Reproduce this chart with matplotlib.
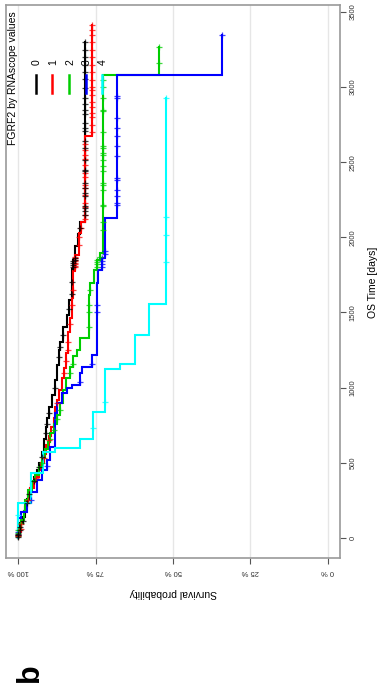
import numpy as np
import matplotlib
matplotlib.use("Agg")
import matplotlib.pyplot as plt

plt.rcParams['font.family'] = ['Liberation Sans', 'DejaVu Sans']

# ---- data ----
groups = ["0", "1", "2", "3", "4"]
colors = ["#000000", "#ff0000", "#00cd00", "#0000ff", "#00ffff"]

g0_times = [30, 96, 140, 207, 260, 318, 360, 407, 450, 496, 573, 660, 740, 796, 873, 951, 1051, 1150,
            1251, 1300, 1402, 1480, 1580, 1791, 1846, 1940, 2024, 2102]
g0_surv = [99.4, 98.6, 97.9, 97.2, 96.6, 96.0, 95.0, 94.0, 93.2, 92.4, 91.6, 91.1, 90.7, 90.2, 89.1, 88.1,
           87.5, 87.0, 86.5, 85.5, 84.3, 83.5, 82.7, 82.2, 81.6, 80.8, 80.0, 78.3]
g0_end = 3300
g0_cens = [5, 15, 25, 50, 70, 110, 230, 290, 380, 470, 540, 700, 760, 830, 1000, 1200, 1270, 1350, 1520,
           1620, 1700, 1800, 1815, 1830, 1840, 1850, 1860, 2060, 2150, 2173, 2196, 2207, 2273, 2296, 2329,
           2363, 2440, 2451, 2518, 2596, 2640, 2707, 2729, 2763, 2818, 2851, 2885, 2929, 2996, 3051, 3100,
           3150, 3200, 3250, 3300]

g1_times = [40, 120, 180, 230, 280, 330, 370, 407, 450, 500, 560, 620, 680, 740, 800, 870, 920, 985,
            1062, 1129, 1229, 1373, 1462, 1596, 1773, 1884, 2029, 2102, 2673]
g1_surv = [99.3, 98.3, 97.6, 97.0, 96.1, 95.0, 94.2, 93.4, 92.6, 91.8, 91.0, 90.2, 89.5, 88.6, 88.0, 87.4,
           86.8, 86.0, 85.4, 84.7, 83.8, 83.2, 82.7, 82.2, 81.6, 80.5, 79.8, 78.6, 76.2]
g1_end = 3411
g1_cens = [10, 20, 60, 90, 250, 400, 530, 650, 900, 1100, 1180, 1250, 1300, 1420, 1550, 1650, 1800, 1810,
           1820, 1830, 1840, 1850, 1860, 1870, 1950, 2000, 2060, 2120, 2150, 2200, 2230, 2280, 2330, 2350,
           2400, 2430, 2480, 2520, 2550, 2580, 2620, 2700, 2750, 2800, 2830, 2870, 2900, 2950, 2980, 3000,
           3050, 3100, 3150, 3200, 3250, 3300, 3350, 3380, 3411]

g2_times = [60, 120, 180, 250, 320, 380, 420, 470, 530, 590, 640, 700, 760, 820, 900, 985, 1062, 1140,
            1207, 1251, 1329, 1618, 1696, 1784, 1851, 1896, 3078]
g2_surv = [99.0, 98.3, 97.7, 96.8, 95.5, 94.5, 93.4, 92.4, 91.3, 90.3, 89.7, 88.6, 87.5, 86.5, 85.6, 84.6,
           83.2, 82.2, 81.1, 80.0, 77.3, 76.8, 75.7, 74.6, 73.5, 72.6, 54.4]
g2_end = 3269
g2_cens = [10, 30, 50, 100, 500, 660, 720, 790, 850, 1100, 1160, 1400, 1500, 1550, 1650, 1800, 1820, 1835,
           1850, 1870, 2050, 2100, 2207, 2218, 2318, 2351, 2363, 2440, 2473, 2518, 2551, 2563, 2596, 2607,
           2700, 2840, 2851, 2929, 3000, 3050, 3162, 3269]

g3_times = [130, 173, 230, 307, 384, 451, 518, 607, 829, 900, 962, 1000, 1020, 1100, 1140, 1218, 1696,
            1780, 1862, 2129, 3078]
g3_surv = [99.2, 97.2, 96.0, 94.0, 92.4, 90.7, 89.7, 88.1, 87.5, 86.0, 84.3, 82.7, 80.0, 79.4, 76.2, 74.6,
           74.1, 73.0, 71.9, 68.0, 34.0]
g3_end = 3345
g3_cens = [15, 40, 250, 480, 1040, 1160, 1500, 1550, 1800, 1820, 1840, 1860, 1890, 1910, 2218, 2229, 2273,
           2318, 2385, 2396, 2540, 2607, 2673, 2729, 2796, 2929, 2940, 3345]

g4_times = [229, 429, 573, 596, 656, 840, 1123, 1156, 1351, 1556]
g4_surv = [96.0, 92.0, 88.0, 80.0, 76.0, 72.0, 67.2, 62.4, 57.6, 52.4]
g4_end = 2925
g4_cens = [150, 729, 907, 1833, 2018, 2136, 2925]

surv_ticks = [100, 75, 50, 25, 0]
surv_labels = ["100 %", "75 %", "50 %", "25 %", "0 %"]
time_ticks = [0, 500, 1000, 1500, 2000, 2500, 3000, 3500]

legend_title = "FGRF2 by RNAscope values"
x_label = "OS Time [days]"
y_label = "Survival probability"
panel_label = "b"

all_times = [g0_times, g1_times, g2_times, g3_times, g4_times]
all_surv = [g0_surv, g1_surv, g2_surv, g3_surv, g4_surv]
all_end = [g0_end, g1_end, g2_end, g3_end, g4_end]
all_cens = [g0_cens, g1_cens, g2_cens, g3_cens, g4_cens]

# ---- figure (chart drawn rotated 90 deg: survival horizontal, time vertical) ----
W, H = 379, 693
fig = plt.figure(figsize=(W / 100, H / 100), dpi=100)
ax = fig.add_axes([6 / W, 1 - 558 / H, (340 - 6) / W, (558 - 5) / H])

ax.set_xlim(104, -4)
ax.set_ylim(-135, 3547)

for v in surv_ticks:
    ax.axvline(v, color="#e6e6e6", lw=1.0, zorder=0)


def km_path(times, surv, end):
    t = np.concatenate([[0.0], np.asarray(times, float), [float(end)]])
    s = np.concatenate([[100.0], np.asarray(surv, float)])
    xs = np.repeat(s, 2)
    ys = np.column_stack([t[:-1], t[1:]]).ravel()
    return xs, ys


def surv_at(times, surv, c):
    s = np.concatenate([[100.0], np.asarray(surv, float)])
    idx = np.searchsorted(np.asarray(times, float), np.asarray(c, float), side="right")
    return s[idx]


order = [4, 3, 2, 1, 0]
for i in order:
    xs, ys = km_path(all_times[i], all_surv[i], all_end[i])
    ax.plot(xs, ys, color=colors[i], lw=1.5, solid_joinstyle="miter", zorder=2 + i * 0.1)
    cs = surv_at(all_times[i], all_surv[i], all_cens[i])
    ax.plot(cs, all_cens[i], linestyle="none", marker="+", ms=5, mew=0.9,
            color=colors[i], alpha=0.75, zorder=3)

for sp in ax.spines.values():
    sp.set_color("#9a9a9a")
    sp.set_linewidth(1.2)

ax.yaxis.tick_right()
ax.set_yticks(time_ticks)
ax.set_yticklabels([str(t) for t in time_ticks], rotation=90, va="center", ha="left",
                   fontsize=5.5, color="#333333")
ax.tick_params(axis="y", length=4, width=0.8, color="#555555", pad=3)

ax.set_xticks(surv_ticks)
ax.set_xticklabels(surv_labels, rotation=180, fontsize=5.5, color="#333333")
ax.tick_params(axis="x", length=4, width=0.8, color="#555555", pad=3)

fig.text(373 / W, 1 - 282 / H, x_label, rotation=90, ha="center", va="center", fontsize=7.5)
fig.text(173 / W, 1 - 593 / H, y_label, rotation=180, ha="center", va="center", fontsize=7.5)
fig.text(30 / W, 1 - 673 / H, panel_label, rotation=90, ha="center", va="center",
         fontsize=22, fontweight="bold")

# ---- legend (rotated) ----
def ax_xy(px, py):
    return (px - 6) / 334, (558 - py) / 553

tx, ty = ax_xy(13, 78)
ax.text(tx, ty, legend_title, transform=ax.transAxes, rotation=90, ha="center", va="center",
        fontsize=7.5)
for k, g in enumerate(groups):
    px = 36 + k * 16.5
    x0, y0 = ax_xy(px, 93)
    _, y1 = ax_xy(px, 75)
    ax.plot([x0, x0], [y0, y1], transform=ax.transAxes, color=colors[k], lw=1.8, zorder=5)
    lx, ly = ax_xy(px + 1, 62)
    ax.text(lx, ly, g, transform=ax.transAxes, rotation=90, ha="center", va="center", fontsize=7.5)

fig.savefig("out.png", dpi=100)
